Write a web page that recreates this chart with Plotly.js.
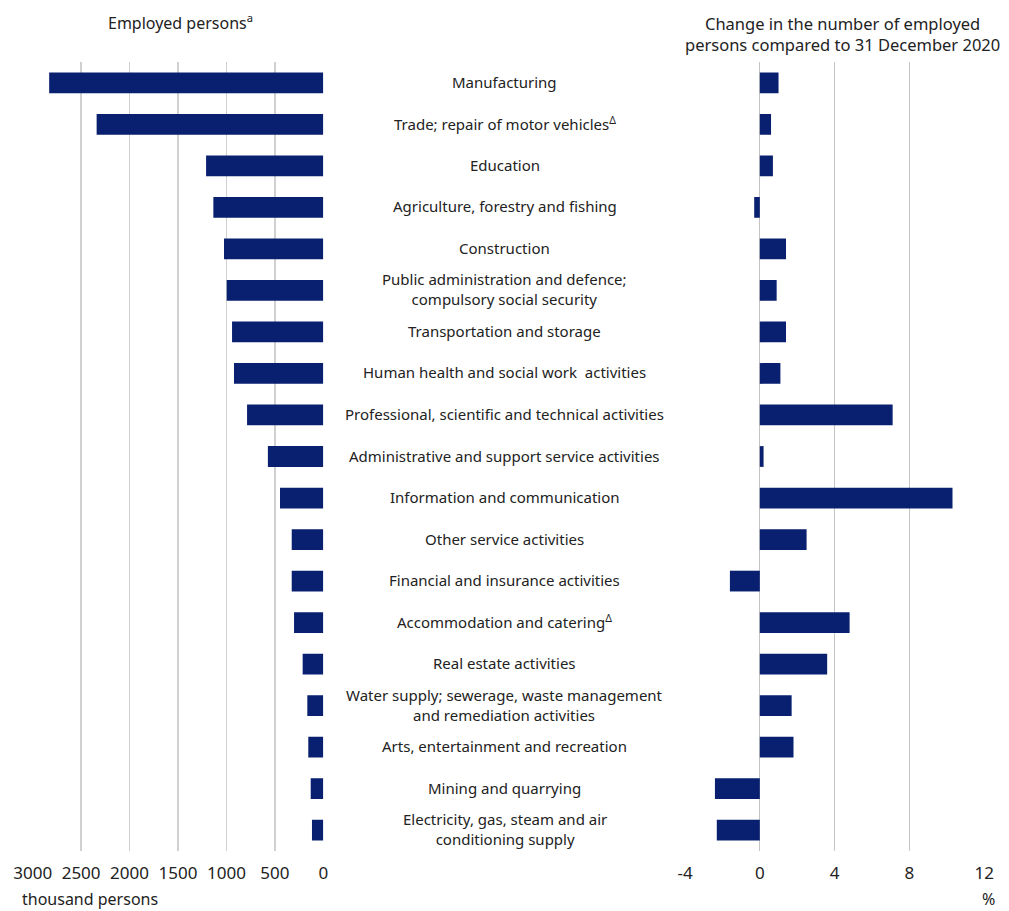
<!DOCTYPE html>
<html>
<head>
<meta charset="utf-8">
<script src="https://cdn.plot.ly/plotly-3.0.1.min.js"></script>
<style>
html,body{margin:0;padding:0;background:#fff;}
#chart{width:1009px;height:911px;}
</style>
</head>
<body>
<div id="chart"></div>
<script>
var categories = [
  "Manufacturing",
  "Trade; repair of motor vehicles<sup>Δ</sup>",
  "Education",
  "Agriculture, forestry and fishing",
  "Construction",
  "Public administration and defence;<br>compulsory social security",
  "Transportation and storage",
  "Human health and social work  activities",
  "Professional, scientific and technical activities",
  "Administrative and support service activities",
  "Information and communication",
  "Other service activities",
  "Financial and insurance activities",
  "Accommodation and catering<sup>Δ</sup>",
  "Real estate activities",
  "Water supply; sewerage, waste management<br>and remediation activities",
  "Arts, entertainment and recreation",
  "Mining and quarrying",
  "Electricity, gas, steam and air<br>conditioning supply"
];
var employedThousands = [2830, 2340, 1210, 1135, 1025, 997, 942, 922, 787, 572, 447, 326, 326, 302, 213, 165, 155, 130, 117];
var changePercent = [1.0, 0.6, 0.7, -0.3, 1.4, 0.9, 1.4, 1.1, 7.1, 0.2, 10.3, 2.5, -1.6, 4.8, 3.6, 1.7, 1.8, -2.4, -2.3];
var leftTicks = [3000, 2500, 2000, 1500, 1000, 500, 0];
var rightTicks = [-4, 0, 4, 8, 12];

var W = 1009;
var barColor = '#08206f';
var font = 'Noto Sans, Open Sans, sans-serif';
var textColor = '#222222';

var yKeys = categories.map(function(c, i){ return 'c' + i; });

var traces = [
  {type:'bar', orientation:'h', x: employedThousands, y: yKeys, xaxis:'x', yaxis:'y',
   marker:{color:barColor}, width:0.5, hoverinfo:'x'},
  {type:'bar', orientation:'h', x: changePercent, y: yKeys, xaxis:'x2', yaxis:'y2',
   marker:{color:barColor}, width:0.5, hoverinfo:'x'}
];

var annotations = categories.map(function(c, i){
  return {text: c, x: 505/W, xref:'paper', y: yKeys[i], yref:'y', yshift:1, showarrow:false,
          xanchor:'center', yanchor:'middle', align:'center',
          font:{family:font, size:15, color:textColor}};
});
annotations.push({text:'Employed persons<sup>a</sup>', x:180/W, xref:'paper', y:1.051, yref:'paper',
  showarrow:false, xanchor:'center', yanchor:'middle', font:{family:font, size:16, color:textColor}});
annotations.push({text:'Change in the number of employed<br>persons compared to 31 December 2020', x:842/W, xref:'paper', y:1.036, yref:'paper',
  showarrow:false, xanchor:'center', yanchor:'middle', align:'center', font:{family:font, size:16.5, color:textColor}});
annotations.push({text:'thousand persons', x:20/W, xref:'paper', y:-0.061, yref:'paper',
  showarrow:false, xanchor:'left', yanchor:'middle', font:{family:font, size:16, color:textColor}});
annotations.push({text:'%', x:988/W, xref:'paper', y:-0.061, yref:'paper',
  showarrow:false, xanchor:'center', yanchor:'middle', font:{family:font, size:16, color:textColor}});

var layout = {
  width: 1009, height: 911,
  margin: {l:0, r:0, t:62, b:60},
  paper_bgcolor:'#ffffff', plot_bgcolor:'#ffffff',
  showlegend:false,
  bargap:0.5,
  font:{family:font, color:textColor},
  xaxis: {domain:[32.7/W, 323.3/W], range:[3000, 0], tickvals:leftTicks, ticktext:leftTicks.map(String),
          showgrid:true, gridcolor:'#d0d0d0', gridwidth:1.5, zeroline:false, showline:false,
          ticks:'', ticklabelstandoff:10, tickfont:{family:font, size:17, color:textColor}, fixedrange:true},
  yaxis: {domain:[0,1], type:'category', categoryarray:yKeys, range:[18.5, -0.5], showticklabels:false,
          showgrid:false, zeroline:false, showline:false, ticks:''},
  xaxis2: {domain:[685/W, 984.3/W], range:[-4, 12], tickvals:rightTicks, ticktext:rightTicks.map(String),
           showgrid:true, gridcolor:'#c4c4c4', gridwidth:1.2, zeroline:false, showline:false,
           ticks:'', ticklabelstandoff:10, tickfont:{family:font, size:17, color:textColor}, anchor:'y2', fixedrange:true},
  yaxis2: {domain:[0,1], type:'category', categoryarray:yKeys, range:[18.5, -0.5], showticklabels:false,
           showgrid:false, zeroline:false, showline:false, ticks:'', anchor:'x2'},
  annotations: annotations
};

Plotly.newPlot('chart', traces, layout, {displayModeBar:false, staticPlot:true});
</script>
</body>
</html>
